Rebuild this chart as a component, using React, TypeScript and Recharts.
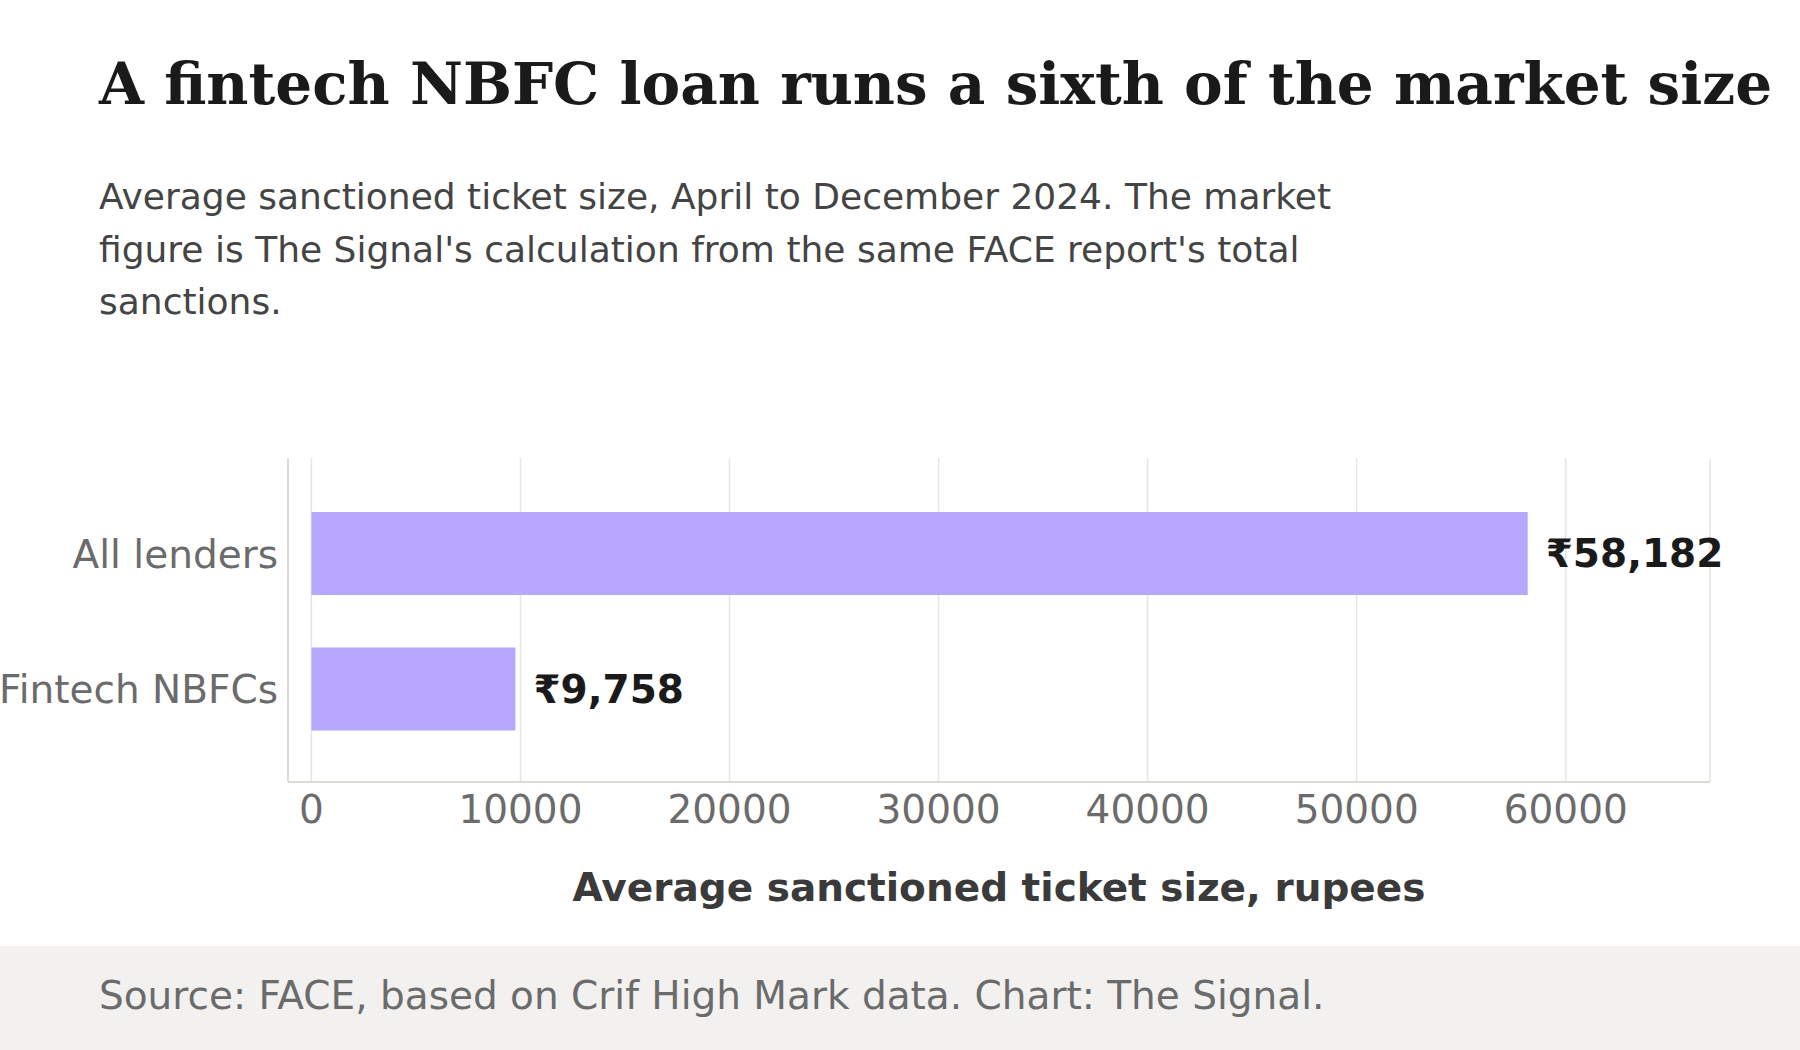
import { BarChart, Bar, XAxis, YAxis, CartesianGrid, LabelList } from "recharts";

const lenders = ["All lenders", "Fintech NBFCs"];
const ticketSize = [58182, 9758];
const xTicks = [0, 10000, 20000, 30000, 40000, 50000, 60000];

const data = lenders.map((name, i) => ({ name, value: ticketSize[i] }));

const sans = "'DejaVu Sans', sans-serif";

const App = () => {
  return (
    <div
      style={{
        position: "absolute",
        left: 0,
        top: 0,
        width: 1800,
        height: 1050,
        background: "#fff",
        fontFamily: sans,
        overflow: "hidden",
      }}
    >
      <div
        style={{
          position: "absolute",
          left: 99,
          top: 50,
          fontFamily: "'DejaVu Serif', serif",
          fontWeight: "bold",
          fontSize: 58,
          color: "#1a1a1a",
          whiteSpace: "nowrap",
        }}
      >
        A fintech NBFC loan runs a sixth of the market size
      </div>
      <div
        style={{
          position: "absolute",
          left: 99,
          top: 171,
          width: 1280,
          fontSize: 36,
          lineHeight: "52.5px",
          color: "#444",
        }}
      >
        Average sanctioned ticket size, April to December 2024. The market
        figure is The Signal's calculation from the same FACE report's total
        sanctions.
      </div>

      <div style={{ position: "absolute", left: 0, top: 431 }}>
        <BarChart
          width={1800}
          height={510}
          data={data}
          layout="vertical"
          margin={{ top: 27, right: 90, left: 0, bottom: 0 }}
        >
          <CartesianGrid horizontal={false} stroke="#e6e5e1" strokeWidth={1.5} />
          <XAxis
            type="number"
            domain={[-1120, 66900]}
            ticks={xTicks}
            allowDataOverflow
            height={159}
            tickLine={false}
            tickSize={0}
            tickMargin={13}
            axisLine={{ stroke: "#dcdbd6", strokeWidth: 2 }}
            tick={{ fill: "#6b6b6b", fontSize: 39, fontFamily: sans }}
            label={{
              value: "Average sanctioned ticket size, rupees",
              position: "insideBottom",
              offset: 40,
              fill: "#3a3a3a",
              fontSize: 39,
              fontWeight: "bold",
              fontFamily: sans,
            }}
          />
          <YAxis
            type="category"
            dataKey="name"
            width={288}
            padding={{ top: 28, bottom: 25 }}
            tickLine={false}
            tickSize={0}
            tickMargin={10}
            axisLine={{ stroke: "#dcdbd6", strokeWidth: 2 }}
            tick={{ fill: "#6b6b6b", fontSize: 39, fontFamily: sans }}
          />
          <Bar dataKey="value" fill="#b8a8fd" barSize={83} isAnimationActive={false}>
            <LabelList
              dataKey="value"
              position="right"
              offset={18}
              formatter={(v: any) => "₹" + Number(v).toLocaleString("en-US")}
              style={{ fill: "#1a1a1a", fontSize: 39, fontWeight: "bold", fontFamily: sans }}
            />
          </Bar>
        </BarChart>
      </div>

      <div
        style={{
          position: "absolute",
          left: 0,
          top: 946,
          width: 1800,
          height: 104,
          background: "#f2f1ef",
        }}
      >
        <div
          style={{
            position: "absolute",
            left: 99,
            top: 27,
            fontSize: 39,
            color: "#6b6b6b",
            whiteSpace: "nowrap",
          }}
        >
          Source: FACE, based on Crif High Mark data. Chart: The Signal.
        </div>
      </div>
    </div>
  );
};

export default App;
